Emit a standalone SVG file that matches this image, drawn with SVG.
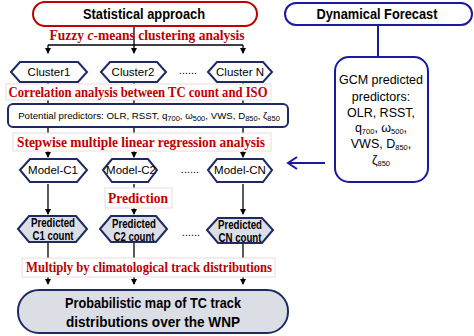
<svg xmlns="http://www.w3.org/2000/svg" width="474" height="336" viewBox="0 0 474 336">
<style>
.sans{font-family:"Liberation Sans",Arial,sans-serif;}
.hd{font-family:"Liberation Sans",Arial,sans-serif;font-weight:bold;font-size:15px;fill:#000;text-anchor:middle;}
.red{font-family:"Liberation Serif","Times New Roman",serif;font-weight:bold;font-size:14px;fill:#c00000;text-anchor:middle;}
.lbl{fill:#fff;stroke:#ecdcdc;stroke-width:1;}
.hex{fill:#fff;stroke:#1f2a60;stroke-width:2;}
.hexg{fill:#dcdee6;stroke:#1f2a60;stroke-width:2;}
.t{font-family:"Liberation Sans",Arial,sans-serif;font-size:11.5px;fill:#000;text-anchor:middle;}
.tb{font-family:"Liberation Sans",Arial,sans-serif;font-size:12px;font-weight:bold;fill:#000;text-anchor:middle;}
.ln{stroke:#000;stroke-width:1.3;fill:none;}
.dots{font-family:"Liberation Sans",Arial,sans-serif;font-size:11px;fill:#000;text-anchor:middle;}
.sub{font-size:7.5px;}
</style>
<defs>
<marker id="ah" markerWidth="6" markerHeight="6" refX="5" refY="3" orient="auto" markerUnits="userSpaceOnUse">
<path d="M0,0 L6,3 L0,6 z" fill="#000"/>
</marker>
</defs>

<g id="connectors">
<line class="ln" x1="134" y1="25" x2="134" y2="45"/>
<line class="ln" x1="48" y1="45" x2="243" y2="45"/>
<line class="ln" x1="48" y1="45" x2="48" y2="53" marker-end="url(#ah)"/>
<line class="ln" x1="134" y1="45" x2="134" y2="53" marker-end="url(#ah)"/>
<line class="ln" x1="243" y1="45" x2="243" y2="53" marker-end="url(#ah)"/>
<line class="ln" x1="48" y1="82" x2="48" y2="104"/>
<line class="ln" x1="134" y1="82" x2="134" y2="104"/>
<line class="ln" x1="243" y1="82" x2="243" y2="104"/>
<line class="ln" x1="48" y1="127" x2="48" y2="157" marker-end="url(#ah)"/>
<line class="ln" x1="134" y1="127" x2="134" y2="157" marker-end="url(#ah)"/>
<line class="ln" x1="243" y1="127" x2="243" y2="157" marker-end="url(#ah)"/>
<line class="ln" x1="48" y1="184" x2="48" y2="214" marker-end="url(#ah)"/>
<line class="ln" x1="134" y1="184" x2="134" y2="214" marker-end="url(#ah)"/>
<line class="ln" x1="243" y1="184" x2="243" y2="214" marker-end="url(#ah)"/>
<line class="ln" x1="48" y1="243" x2="48" y2="284" marker-end="url(#ah)"/>
<line class="ln" x1="134" y1="243" x2="134" y2="284" marker-end="url(#ah)"/>
<line class="ln" x1="243" y1="243" x2="243" y2="284" marker-end="url(#ah)"/>
<line x1="378" y1="25" x2="378" y2="57" stroke="#1a1aa0" stroke-width="2"/>
<line x1="325" y1="163" x2="289" y2="163" stroke="#1a1aa0" stroke-width="2"/>
<path d="M297,157 L288,163 L297,169" fill="none" stroke="#1a1aa0" stroke-width="2"/>
</g>

<g id="statistical">
<rect x="33" y="2" width="224" height="24" rx="12" fill="#fff" stroke="#c00000" stroke-width="2"/>
<text class="hd" x="144" y="19" textLength="122" lengthAdjust="spacingAndGlyphs">Statistical approach</text>
</g>

<g id="fuzzy-label">
<text class="red" x="147" y="40" textLength="195" lengthAdjust="spacingAndGlyphs">Fuzzy <tspan font-style="italic">c</tspan>-means clustering analysis</text>
</g>

<g id="cluster1">
<polygon class="hex" points="11,72 20,62 78,62 87,72 78,82 20,82"/>
<text class="t" x="49" y="76">Cluster1</text>
</g>
<g id="cluster2">
<polygon class="hex" points="101,72 110,62 157,62 166,72 157,82 110,82"/>
<text class="t" x="133" y="76">Cluster2</text>
</g>
<text class="dots" x="188" y="74">......</text>
<g id="clusterN">
<polygon class="hex" points="208,72 217,62 263,62 272,72 263,82 217,82"/>
<text class="t" x="240" y="76">Cluster N</text>
</g>

<g id="correlation-label">
<rect class="lbl" x="6" y="84" width="265" height="16"/>
<text class="red" x="138" y="97" textLength="259" lengthAdjust="spacingAndGlyphs">Correlation analysis between TC count and ISO</text>
</g>

<g id="predictors">
<rect x="8" y="104" width="280" height="23" rx="5" fill="#fff" stroke="#1f2a60" stroke-width="2"/>
<text class="sans" x="149" y="119" font-size="9.7" text-anchor="middle">Potential predictors: OLR, RSST, q<tspan class="sub" baseline-shift="-2">700</tspan>, ω<tspan class="sub" baseline-shift="-2">500</tspan>, VWS, D<tspan class="sub" baseline-shift="-2">850</tspan>, ζ<tspan class="sub" baseline-shift="-2">850</tspan></text>
</g>

<g id="stepwise-label">
<rect class="lbl" x="13" y="133" width="258" height="18"/>
<text class="red" x="141" y="147" textLength="248" lengthAdjust="spacingAndGlyphs">Stepwise multiple linear regression analysis</text>
</g>

<g id="model-c1">
<polygon class="hex" points="20,170 30,159 77,159 87,170 77,182 30,182"/>
<text class="t" x="53" y="174">Model-C1</text>
</g>
<g id="model-c2">
<polygon class="hex" points="103,170 112,159 148,159 157,170 148,182 112,182"/>
<text class="t" x="131" y="174">Model-C2</text>
</g>
<text class="dots" x="190" y="173">......</text>
<g id="model-cn">
<polygon class="hex" points="208,170 217,159 263,159 272,170 263,182 217,182"/>
<text class="t" x="240" y="174">Model-CN</text>
</g>

<g id="prediction-label">
<rect class="lbl" x="105" y="188" width="67" height="20"/>
<text class="red" x="138" y="203" textLength="60" lengthAdjust="spacingAndGlyphs">Prediction</text>
</g>

<g id="pred-c1">
<polygon class="hexg" points="18,229 29,216 76,216 87,229 76,242 29,242"/>
<text class="tb" x="53" y="227" textLength="44" lengthAdjust="spacingAndGlyphs">Predicted</text>
<text class="tb" x="53" y="240" textLength="41" lengthAdjust="spacingAndGlyphs">C1 count</text>
</g>
<g id="pred-c2">
<polygon class="hexg" points="100,229 111,216 156,216 167,229 156,242 111,242"/>
<text class="tb" x="134" y="228" textLength="44" lengthAdjust="spacingAndGlyphs">Predicted</text>
<text class="tb" x="134" y="241" textLength="41" lengthAdjust="spacingAndGlyphs">C2 count</text>
</g>
<text class="dots" x="191" y="236">......</text>
<g id="pred-cn">
<polygon class="hexg" points="207,230 218,218 262,218 273,230 262,243 218,243"/>
<text class="tb" x="240" y="229" textLength="44" lengthAdjust="spacingAndGlyphs">Predicted</text>
<text class="tb" x="240" y="242" textLength="43" lengthAdjust="spacingAndGlyphs">CN count</text>
</g>

<g id="multiply-label">
<rect class="lbl" x="22" y="258" width="253" height="19"/>
<text class="red" x="149" y="272" textLength="246" lengthAdjust="spacingAndGlyphs">Multiply  by climatological  track distributions</text>
</g>

<g id="final">
<rect x="18" y="290" width="270" height="43" rx="21" fill="#dcdee6" stroke="#1f2a60" stroke-width="2"/>
<text class="hd" x="153" y="308" textLength="176" lengthAdjust="spacingAndGlyphs">Probabilistic map of TC track</text>
<text class="hd" x="153" y="327" textLength="174" lengthAdjust="spacingAndGlyphs">distributions  over the WNP</text>
</g>

<g id="dynamical">
<rect x="285" y="3" width="187" height="22" rx="11" fill="#fff" stroke="#1a1aa0" stroke-width="2"/>
<text class="hd" x="377" y="19" textLength="121" lengthAdjust="spacingAndGlyphs">Dynamical Forecast</text>
</g>

<g id="gcm">
<rect x="335" y="57" width="93" height="125" rx="14" fill="#fff" stroke="#1a1aa0" stroke-width="2"/>
<g class="sans" font-size="12.5" text-anchor="middle" fill="#000">
<text x="381" y="84">GCM predicted</text>
<text x="381" y="101">predictors:</text>
<text x="381" y="117">OLR,  RSST,</text>
<text x="381" y="132">q<tspan class="sub" baseline-shift="-2">700</tspan>, ω<tspan class="sub" baseline-shift="-2">500</tspan>,</text>
<text x="381" y="148">VWS, D<tspan class="sub" baseline-shift="-2">850</tspan>,</text>
<text x="381" y="164">ζ<tspan class="sub" baseline-shift="-2">850</tspan></text>
</g>
</g>
</svg>
